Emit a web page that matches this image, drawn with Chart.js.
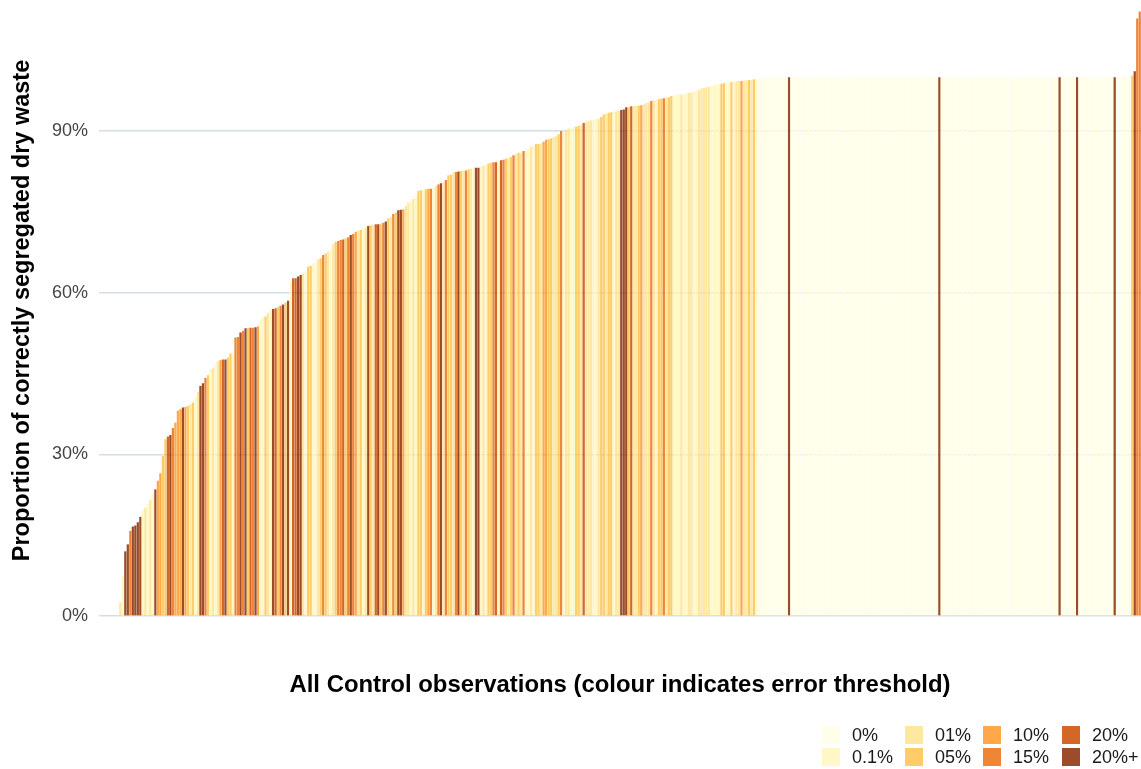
<!DOCTYPE html>
<html>
<head>
<meta charset="utf-8">
<title>Control observations</title>
<script src="https://cdn.jsdelivr.net/npm/chart.js@4.4.1/dist/chart.umd.min.js"></script>
<style>
  body { margin: 0; background: #fff; font-family: "Liberation Sans", Arial, sans-serif; }
  #wrap { position: relative; width: 1141px; height: 769px; }
  #legend {
    position: absolute; left: 822px; top: 726px;
    display: grid; grid-auto-flow: column;
    grid-template-columns: 83px 78px 79px auto;
    grid-template-rows: 18px 18px; row-gap: 4px;
    font-size: 18px; color: #1a1a1a;
  }
  .item { display: flex; align-items: center; white-space: nowrap; }
  .swatch { width: 18px; height: 18px; margin-right: 12px; flex: none; }
</style>
</head>
<body>
<div id="wrap">
  <canvas id="myChart"></canvas>
  <div id="legend"></div>
</div>
<script>
const thresholds = ["0%", "0.1%", "01%", "05%", "10%", "15%", "20%", "20%+"];
const thresholdColors = ["#FFFFE5", "#FFF7BC", "#FEE391", "#FEC44F", "#FE9929", "#EC7014", "#CC4C02", "#8C2D04"];
const yTicks = [0, 30, 60, 90];

// share of dry waste correctly segregated, one value per observation (sorted)
const proportionCorrect = [
  0, 0, 0, 0, 0, 0, 0, 0, 2.5, 7.4,
  12.0, 13.3, 15.8, 16.6, 16.8, 17.4, 18.4, 19.7, 20.1, 20.8,
  21.6, 22.6, 23.5, 25.1, 26.5, 29.7, 32.8, 33.3, 33.6, 34.9,
  35.9, 38.1, 38.4, 38.7, 38.8, 39.0, 39.3, 39.6, 40.6, 41.6,
  42.7, 43.2, 44.2, 44.7, 45.8, 46.0, 46.6, 47.3, 47.5, 47.6,
  47.6, 48.0, 48.7, 48.8, 51.7, 51.8, 52.6, 52.9, 53.4, 53.5,
  53.5, 53.5, 53.6, 53.8, 55.0, 55.5, 55.6, 56.3, 56.8, 57.0,
  57.1, 57.3, 57.6, 57.8, 58.2, 58.5, 62.0, 62.7, 62.7, 63.0,
  63.3, 63.5, 64.0, 64.8, 65.0, 65.4, 65.6, 66.2, 66.4, 67.0,
  67.3, 67.6, 68.0, 69.0, 69.4, 69.6, 69.8, 69.9, 70.1, 70.3,
  70.7, 70.9, 71.3, 71.5, 71.7, 71.9, 72.1, 72.4, 72.5, 72.6,
  72.7, 72.7, 72.8, 73.0, 73.2, 73.8, 74.0, 74.6, 74.9, 75.3,
  75.4, 75.5, 76.1, 76.7, 77.0, 77.4, 77.9, 78.9, 79.0, 79.1,
  79.2, 79.3, 79.3, 79.5, 79.8, 80.1, 80.3, 80.5, 80.9, 81.8,
  81.9, 82.3, 82.4, 82.5, 82.6, 82.6, 82.7, 82.9, 83.0, 83.1,
  83.2, 83.2, 83.4, 83.6, 83.8, 84.0, 84.1, 84.2, 84.2, 84.3,
  84.6, 84.7, 84.9, 85.0, 85.2, 85.5, 85.7, 86.0, 86.0, 86.3,
  86.4, 86.8, 87.1, 87.3, 87.6, 87.6, 87.7, 88.0, 88.4, 88.5,
  88.6, 88.9, 89.1, 89.4, 90.0, 90.1, 90.2, 90.5, 90.6, 90.7,
  90.8, 91.0, 91.1, 91.5, 91.8, 91.9, 92.0, 92.1, 92.2, 92.3,
  92.6, 93.1, 93.2, 93.4, 93.5, 93.6, 93.7, 93.8, 93.9, 94.0,
  94.4, 94.4, 94.6, 94.6, 94.7, 94.7, 94.8, 95.0, 95.2, 95.3,
  95.6, 95.7, 95.8, 95.9, 96.0, 96.1, 96.2, 96.3, 96.5, 96.6,
  96.7, 96.8, 96.8, 96.9, 97.0, 97.1, 97.2, 97.3, 97.5, 97.6,
  97.9, 98.0, 98.1, 98.2, 98.4, 98.6, 98.6, 98.7, 98.8, 98.9,
  99.0, 99.0, 99.1, 99.2, 99.2, 99.3, 99.3, 99.4, 99.4, 99.5,
  99.5, 99.6, 99.6, 100, 100, 100, 100, 100, 100, 100,
  100, 100, 100, 100, 100, 100, 100, 100, 100, 100,
  100, 100, 100, 100, 100, 100, 100, 100, 100, 100,
  100, 100, 100, 100, 100, 100, 100, 100, 100, 100,
  100, 100, 100, 100, 100, 100, 100, 100, 100, 100,
  100, 100, 100, 100, 100, 100, 100, 100, 100, 100,
  100, 100, 100, 100, 100, 100, 100, 100, 100, 100,
  100, 100, 100, 100, 100, 100, 100, 100, 100, 100,
  100, 100, 100, 100, 100, 100, 100, 100, 100, 100,
  100, 100, 100, 100, 100, 100, 100, 100, 100, 100,
  100, 100, 100, 100, 100, 100, 100, 100, 100, 100,
  100, 100, 100, 100, 100, 100, 100, 100, 100, 100,
  100, 100, 100, 100, 100, 100, 100, 100, 100, 100,
  100, 100, 100, 100, 100, 100, 100, 100, 100, 100,
  100, 100, 100, 100, 100, 100, 100, 100, 100, 100,
  100, 100, 100.3, 101.1, 110.9, 112.2,
];

// error threshold of each observation, index into thresholds
const thresholdIndex = [
  7, 7, 7, 7, 7, 7, 7, 7, 2, 1,
  7, 7, 5, 7, 7, 7, 7, 1, 2, 1,
  2, 1, 7, 4, 4, 3, 3, 6, 7, 5,
  4, 4, 4, 7, 4, 3, 2, 3, 1, 2,
  7, 7, 5, 3, 1, 2, 1, 2, 4, 6,
  7, 3, 3, 1, 5, 5, 7, 5, 7, 3,
  6, 5, 7, 4, 1, 1, 3, 2, 1, 7,
  6, 3, 5, 7, 3, 7, 1, 6, 6, 7,
  7, 2, 1, 3, 3, 1, 1, 2, 3, 5,
  3, 2, 1, 2, 3, 5, 5, 6, 3, 5,
  7, 5, 4, 2, 3, 1, 2, 7, 3, 2,
  6, 7, 3, 5, 7, 3, 2, 5, 3, 7,
  7, 4, 2, 2, 1, 2, 1, 3, 3, 1,
  3, 4, 5, 1, 2, 5, 7, 2, 5, 3,
  3, 2, 5, 7, 3, 2, 5, 3, 2, 1,
  7, 7, 1, 2, 1, 3, 3, 5, 6, 1,
  6, 5, 3, 2, 3, 5, 2, 3, 2, 5,
  1, 1, 2, 1, 3, 3, 2, 4, 4, 3,
  3, 2, 2, 3, 5, 1, 2, 2, 1, 1,
  3, 3, 2, 6, 2, 2, 2, 1, 1, 2,
  3, 3, 2, 3, 3, 1, 2, 2, 7, 7,
  7, 3, 6, 2, 2, 3, 4, 2, 2, 2,
  5, 2, 1, 3, 3, 5, 2, 3, 3, 1,
  1, 1, 2, 1, 1, 2, 2, 1, 1, 2,
  2, 2, 2, 2, 1, 1, 1, 1, 3, 3,
  1, 1, 3, 1, 2, 2, 4, 2, 2, 3,
  2, 3, 1, 0, 0, 0, 0, 0, 0, 0,
  0, 0, 0, 0, 0, 7, 0, 0, 0, 0,
  0, 0, 0, 0, 0, 0, 0, 0, 0, 0,
  0, 0, 0, 0, 0, 0, 0, 0, 0, 0,
  0, 0, 0, 0, 0, 0, 0, 0, 0, 0,
  0, 0, 0, 0, 0, 0, 0, 0, 0, 0,
  0, 0, 0, 0, 0, 0, 0, 0, 0, 0,
  0, 0, 0, 0, 0, 7, 0, 0, 0, 0,
  0, 0, 0, 0, 0, 0, 0, 0, 0, 0,
  0, 0, 0, 0, 0, 0, 0, 0, 0, 0,
  0, 0, 0, 0, 0, 0, 0, 0, 0, 0,
  0, 0, 0, 0, 0, 0, 0, 0, 0, 0,
  0, 0, 0, 7, 0, 0, 0, 0, 0, 0,
  7, 0, 0, 0, 0, 0, 0, 0, 0, 0,
  0, 0, 0, 0, 0, 7, 0, 0, 0, 0,
  0, 0, 3, 7, 5, 5,
];

const FONT = "'Liberation Sans', Arial, sans-serif";

function withAlpha(hex, a) {
  const n = parseInt(hex.slice(1), 16);
  return `rgba(${(n >> 16) & 255}, ${(n >> 8) & 255}, ${n & 255}, ${a})`;
}

const fills = thresholdColors.map(c => withAlpha(c, 0.85));

// legend: two rows, filled column by column
const legendEl = document.getElementById("legend");
thresholds.forEach((name, k) => {
  const item = document.createElement("div");
  item.className = "item";
  item.innerHTML = `<span class="swatch" style="background:${fills[k]}"></span><span>${name}</span>`;
  legendEl.appendChild(item);
});

const ctx = document.getElementById("myChart");

new Chart(ctx, {
  type: "bar",
  data: {
    labels: proportionCorrect.map((_, i) => i + 1),
    datasets: [
      {
        label: "Proportion correct",
        data: proportionCorrect,
        backgroundColor: thresholdIndex.map(k => fills[k]),
        borderWidth: 0,
        barPercentage: 0.9,
        categoryPercentage: 1.0,
      },
    ],
  },
  options: {
    responsive: true,
    maintainAspectRatio: false,
    animation: false,
    layout: { padding: { top: 5, left: 0, right: 0, bottom: 0 } },
    plugins: {
      legend: { display: false },
      tooltip: { enabled: false },
    },
    scales: {
      x: {
        grid: { display: false },
        border: { display: false },
        ticks: { display: false },
        title: {
          display: true,
          text: "All Control observations (colour indicates error threshold)",
          color: "#000",
          font: { family: FONT, size: 23.9, weight: "bold" },
          padding: { top: 0, bottom: 69 },
        },
        afterFit: (scale) => { scale.height = 153; },
      },
      y: {
        min: 0,
        max: 113.4,
        grid: { color: "#d5dde6", lineWidth: 1.4, drawTicks: false },
        border: { display: false },
        ticks: {
          padding: 11,
          color: "#444",
          font: { family: FONT, size: 18 },
          callback: (v) => v + "%",
        },
        afterBuildTicks: (scale) => { scale.ticks = yTicks.map(v => ({ value: v })); },
        title: {
          display: true,
          text: "Proportion of correctly segregated dry waste",
          color: "#000",
          font: { family: FONT, size: 23.5, weight: "bold" },
          padding: { top: 8, bottom: 0 },
        },
        afterFit: (scale) => {
          scale.width = 99;
          scale.paddingTop = 0;
          scale.paddingBottom = 0;
        },
      },
    },
  },
});
</script>
</body>
</html>
